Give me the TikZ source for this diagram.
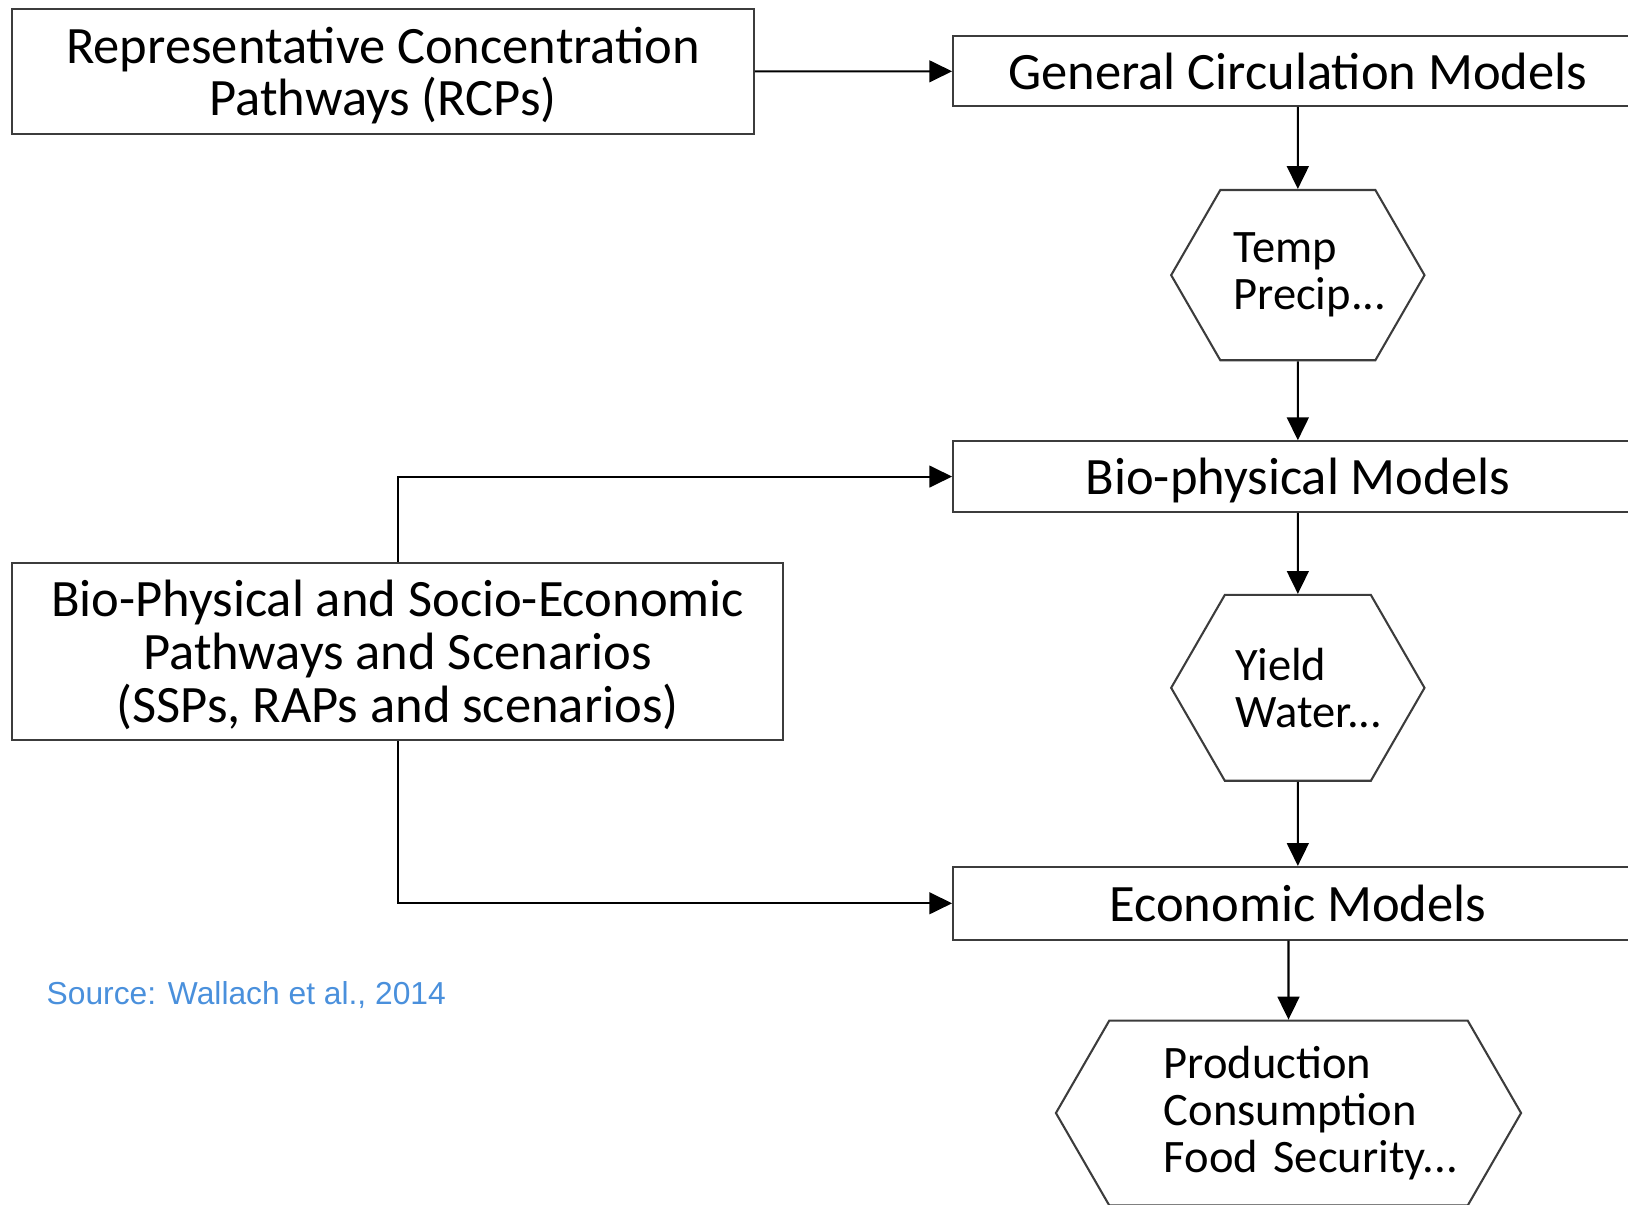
\documentclass[tikz,border=0pt]{standalone}
\usepackage{fontspec}
\setmainfont{Carlito}
\newfontfamily\srcfont{Liberation Sans}
\usetikzlibrary{arrows.meta,positioning,shapes.symbols,calc}
\definecolor{srcblue}{HTML}{4A90DC}
\definecolor{boxline}{HTML}{3C3C3C}
\tikzset{
  model box/.style={
    draw=boxline,
    line width=1pt,
    shape=rectangle,
    inner sep=0pt,
    align=center,
    text depth=0pt,
    font=\fontsize{25.3pt}{25pt}\selectfont
  },
  out hex/.style={
    draw=boxline,
    line width=1pt,
    shape=signal,
    signal to=west and east,
    signal pointer angle=120,
    inner sep=0pt,
    align=left,
    font=\fontsize{22.4pt}{22.6pt}\selectfont
  }
}

\begin{document}
\begin{tikzpicture}[%
            x=0.5pt,
            y=-0.5pt,
            >={Triangle[length=11pt,width=10.5pt]},
            line width=1pt]
    \useasboundingbox (0,0) rectangle (1568,1160);
    \clip (0,0) rectangle (1568,1160);
    \node[model box,minimum width=357pt,minimum height=60pt] (rcp) at (369,69) {Representative Concentration\\Pathways (RCPs)};
    \node[model box,minimum width=332pt,minimum height=33.5pt] (gcm) at (1250,68.5) {General Circulation Models};
    \node[out hex,minimum width=122pt,minimum height=82pt,text width=62pt] (climate) at (1250,265) {Temp\\Precip...};
    \node[model box,minimum width=332pt,minimum height=34pt] (bio) at (1250,459) {Bio-physical Models};
    \node[model box,minimum width=371pt,minimum height=85.5pt,font=\fontsize{25.3pt}{25.5pt}\selectfont] (ssp) at (383,627.5) {Bio-Physical and Socio-Economic\\Pathways and Scenarios\\(SSPs, RAPs and scenarios)};
    \node[out hex,minimum width=122pt,minimum height=89.5pt,text width=60pt] (yield) at (1250,662.5) {Yield\\Water...};
    \node[model box,minimum width=332pt,minimum height=35pt] (econ) at (1250,870) {Economic Models};
    \node[out hex,minimum width=224pt,minimum height=89pt,text width=120pt] (prod) at (1241,1072) {Production\\Consumption\\\mbox{Food Security...}};
    \node[anchor=west,inner sep=0pt,text=srcblue,font=\srcfont\fontsize{15.3pt}{16pt}\selectfont] (source) at (44,958) {Source: Wallach et al., 2014};
    \path[->]
    (rcp) edge (gcm)
    (gcm) edge (climate)
    (climate) edge (bio)
    (bio) edge (yield)
    (yield) edge (econ)
    (econ.south -| prod.north) edge (prod);
    \draw[->] (ssp.north) |- (bio.west);
    \draw[->] (ssp.south) |- (econ.west);
\end{tikzpicture}
\end{document}
